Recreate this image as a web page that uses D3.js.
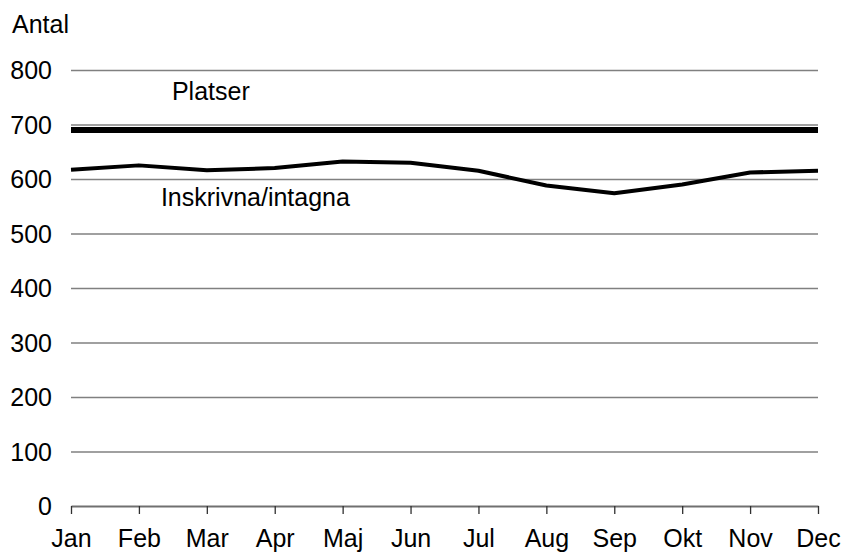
<!DOCTYPE html>
<html lang="sv">
<head>
  <meta charset="UTF-8"/>
  <title>Platser och inskrivna/intagna</title>
  <script src="https://d3js.org/d3.v7.min.js"></script>
  <style>
    body { margin: 0; background: #fff; }
    svg text { font-family: 'Liberation Sans', Arial, sans-serif; fill: #000; }
  </style>
</head>
<body>
  <svg id="chart" width="843" height="557"></svg>

  <script>
  const months = ['Jan', 'Feb', 'Mar', 'Apr', 'Maj', 'Jun', 'Jul', 'Aug', 'Sep', 'Okt', 'Nov', 'Dec'];
  const platser = [690, 690, 690, 690, 690, 690, 690, 690, 690, 690, 690, 690];
  const inskrivna = [617, 625, 616, 620, 632, 630, 615, 588, 574, 590, 612, 615];
  const yTicks = [0, 100, 200, 300, 400, 500, 600, 700, 800];

  const svg = d3.select('#chart');

  const plotLeft = 71, plotRight = 818;
  const plotTop = 70, plotBottom = 506;
  const fontSize = 25;

  const x = d3.scalePoint()
    .domain(months)
    .range([plotLeft, plotRight]);

  const y = d3.scaleLinear()
    .domain([0, 800])
    .range([plotBottom, plotTop]);

  // horizontal grid lines
  svg.append('g')
    .attr('transform', `translate(${plotLeft}, 0)`)
    .call(d3.axisLeft(y)
      .tickValues(yTicks.filter(d => d > 0))
      .tickSize(-(plotRight - plotLeft))
      .tickFormat(''))
    .call(g => g.select('.domain').remove())
    .call(g => g.selectAll('line')
      .attr('stroke', '#808080')
      .attr('stroke-width', 1.4));

  // y labels
  svg.append('g')
    .attr('transform', `translate(${plotLeft}, 0)`)
    .call(d3.axisLeft(y)
      .tickValues(yTicks)
      .tickSize(0)
      .tickPadding(19))
    .call(g => g.select('.domain').remove())
    .call(g => g.selectAll('text')
      .attr('font-size', fontSize)
      .attr('dy', '0.34em'));

  // x axis
  svg.append('g')
    .attr('transform', `translate(0, ${plotBottom})`)
    .call(d3.axisBottom(x)
      .tickSizeInner(8)
      .tickSizeOuter(0)
      .tickPadding(16))
    .call(g => g.select('.domain')
      .attr('stroke', '#707070')
      .attr('stroke-width', 2))
    .call(g => g.selectAll('.tick line')
      .attr('stroke', '#303030')
      .attr('stroke-width', 1.3))
    .call(g => g.selectAll('text')
      .attr('font-size', fontSize)
      .attr('dy', '0.68em'));

  const line = d3.line()
    .x((d, i) => x(months[i]))
    .y(d => y(d));

  svg.append('path')
    .datum(platser)
    .attr('fill', 'none')
    .attr('stroke', '#000')
    .attr('stroke-width', 6)
    .attr('d', line);

  svg.append('path')
    .datum(inskrivna)
    .attr('fill', 'none')
    .attr('stroke', '#000')
    .attr('stroke-width', 4)
    .attr('stroke-linejoin', 'round')
    .attr('d', line);

  svg.append('text')
    .attr('x', x('Mar') + 4)
    .attr('y', y(745))
    .attr('text-anchor', 'middle')
    .attr('font-size', fontSize)
    .text('Platser');

  svg.append('text')
    .attr('x', x('Feb') + 22)
    .attr('y', y(550))
    .attr('text-anchor', 'start')
    .attr('font-size', fontSize)
    .text('Inskrivna/intagna');

  svg.append('text')
    .attr('x', 12)
    .attr('y', 33)
    .attr('font-size', fontSize)
    .text('Antal');
  </script>
</body>
</html>
